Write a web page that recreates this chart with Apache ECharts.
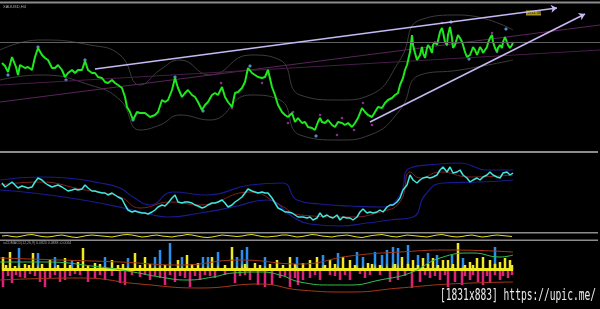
<!DOCTYPE html>
<html><head><meta charset="utf-8">
<script src="https://cdn.jsdelivr.net/npm/echarts@6/dist/echarts.min.js"></script>
<style>html,body{margin:0;padding:0;background:#000;}#c{width:600px;height:309px;}</style>
</head><body><div id="c"></div>
<script>
// ---- main panel: price (bar index, level) ----
const price = [[2,137],[5,134],[8,128],[12,143],[13,145],[16,133],[18,125],[20,135],[25,132],[28,133],[32,130],[35,143],[38,152],[42,145],[45,142],[48,140],[52,132],[55,132],[58,135],[62,130],[65,123],[68,127],[72,130],[75,127],[78,130],[82,130],[85,139],[88,130],[92,127],[95,127],[98,123],[102,122],[105,118],[108,117],[112,120],[115,117],[118,115],[122,112],[125,103],[127,93],[130,88],[133,80],[137,88],[140,87],[145,87],[150,83],[155,85],[158,88],[162,100],[165,98],[168,100],[172,110],[175,122],[178,112],[182,103],[185,107],[188,110],[192,105],[195,103],[198,98],[202,90],[205,95],[208,98],[212,105],[215,107],[218,105],[222,113],[225,103],[228,98],[232,93],[235,107],[238,108],[242,112],[245,118],[248,132],[252,127],[255,125],[258,123],[262,122],[265,123],[268,130],[272,113],[275,105],[278,95],[282,88],[285,85],[288,83],[292,87],[295,78],[298,82],[302,77],[305,78],[308,73],[312,72],[315,70],[318,78],[320,82],[322,78],[325,77],[328,80],[332,75],[335,73],[338,78],[342,77],[345,75],[348,77],[352,73],[355,77],[358,82],[362,92],[365,88],[368,85],[372,83],[375,88],[378,93],[382,92],[385,97],[388,100],[392,102],[395,105],[398,107],[400,115],[403,122],[405,130],[407,135],[410,148],[412,165],[413,155],[415,147],[417,140],[418,138],[420,145],[422,153],[423,147],[425,142],[427,152],[428,155],[430,152],[432,147],[433,155],[435,158],[437,155],[440,168],[442,172],[443,168],[445,158],[447,155],[448,165],[450,173],[452,162],[453,152],[455,155],[458,165],[460,162],[462,158],[463,155],[465,148],[467,143],[468,142],[470,145],[472,150],[473,153],[475,150],[477,145],[478,147],[480,153],[482,150],[483,147],[485,150],[487,153],[488,157],[490,162],[492,165],[493,158],[495,152],[497,148],[498,152],[500,155],[502,152],[503,158],[505,163],[507,162],[508,155],[510,152],[512,155],[513,158]];
const envUpper = [[0,150],[40,160],[90,155],[120,145],[140,115],[160,130],[180,140],[210,125],[250,145],[280,140],[300,105],[340,100],[370,105],[400,140],[420,180],[460,185],[513,170]];
const envLower = [[0,120],[40,125],[90,115],[120,100],[140,70],[160,75],[180,85],[210,80],[250,105],[280,100],[300,65],[340,60],[370,65],[400,90],[420,125],[460,130],[513,140]];
const blueMarks = [[8,125],[38,153],[66,120],[85,140],[133,80],[175,123],[203,89],[250,134],[316,64],[451,178],[469,141],[506,171]];
const pinkMarks = [[221,117],[232,92],[262,117],[268,130],[288,77],[293,88],[320,85],[337,65],[342,82],[354,70],[363,97],[372,75],[442,177],[447,155],[492,167],[497,148]];
const levelLine = 158;
const trendUp = [[95,131],[557,192]];
const trendLow = [[370,78],[585,186]];
const chanA = [[0,98],[600,175]];
const chanB = [[0,115],[600,150]];
const priceLabel = '1811.38';

// ---- panel 2: oscillator ----
const osc = [[2,67],[5,63],[8,65],[12,68],[15,65],[18,62],[22,64],[25,63],[28,62],[32,63],[35,68],[38,72],[42,70],[45,67],[48,65],[52,63],[55,64],[58,65],[62,63],[65,61],[68,59],[72,60],[75,61],[78,60],[82,61],[85,65],[88,62],[92,59],[95,59],[98,58],[102,57],[105,57],[108,55],[112,57],[115,55],[118,53],[122,51],[125,45],[128,40],[132,38],[135,39],[138,38],[142,37],[145,37],[148,36],[152,38],[155,40],[158,43],[162,45],[165,44],[168,47],[172,52],[175,55],[178,48],[182,47],[185,48],[188,48],[192,47],[195,45],[198,44],[202,42],[205,43],[208,45],[212,47],[215,47],[218,48],[222,50],[225,47],[228,43],[232,45],[235,48],[238,50],[242,53],[245,57],[248,61],[252,59],[255,58],[258,57],[262,58],[265,57],[268,57],[272,52],[275,47],[278,42],[282,40],[285,38],[288,38],[292,37],[295,35],[298,33],[300,35],[303,33],[307,32],[310,33],[313,30],[317,32],[320,37],[323,33],[327,35],[330,33],[333,32],[337,35],[340,30],[343,33],[347,32],[350,32],[353,30],[357,33],[360,38],[363,41],[367,37],[370,38],[373,37],[377,38],[380,40],[383,38],[387,43],[390,45],[393,45],[397,48],[400,52],[403,60],[407,65],[410,75],[413,70],[417,67],[420,70],[423,72],[427,73],[430,72],[433,73],[437,75],[440,80],[443,83],[447,78],[450,83],[453,77],[457,78],[460,80],[463,75],[467,72],[470,68],[473,70],[477,72],[480,70],[483,73],[487,75],[490,78],[493,75],[497,73],[500,72],[503,77],[507,78],[510,75],[513,77]];
const oscUpper = [[0,70],[40,73],[67,72],[100,67],[120,62],[133,53],[150,45],[173,58],[207,55],[250,65],[283,67],[297,50],[320,46],[350,44],[383,43],[400,55],[410,82],[440,86],[460,87],[487,80],[513,80]];
const oscLower = [[0,60],[33,57],[83,50],[133,40],[153,35],[167,33],[200,37],[233,43],[267,50],[293,33],[310,26],[340,24],[367,27],[390,30],[413,33],[425,55],[443,67],[480,68],[513,70]];
const oscSignal = [[0,65],[40,68],[80,61],[120,53],[140,42],[170,48],[200,45],[250,58],[280,45],[300,35],[350,33],[380,38],[400,48],[410,78],[420,72],[440,78],[470,73],[513,75]];

// ---- panel 3: thin yellow oscillator ----
const thin = [4,4.5,3.5,3,4,5,5.5,4.5,3.5,3,3.5,4.5,5,4,3,2.5,3.5,4.5,5,4.5,4,3.5,3,4,5,5.5,5,4,3,3.5,4.5,5,4,3.5,3,4,4.5,5.5,5,4,3,2.5,3,4,5,4.5,4,3.5,4,5,5.5,4.5,3.5,3,3.5,4,5,5,4,3,3.5,4.5,5.5,5,4,3.5,3,4,4.5,5,4,3,2.5,3.5,4.5,5,5.5,4.5,3.5,3,4,5,4.5,4,3.5,3,4,5,5.5,4.5,3.5,3,3.5,4.5,5,4,3,3.5,4.5,5,4.5,4,3.5];

// ---- panel 4: histogram ----
const histYellow = [[3,13],[6,5],[10,18],[15,4],[25,6],[29,5],[33,17],[42,6],[50,10],[58,5],[65,12],[70,5],[78,8],[83,22],[88,4],[95,7],[100,6],[112,10],[118,5],[123,6],[135,17],[140,5],[145,13],[150,6],[165,5],[178,10],[187,15],[192,6],[198,7],[212,13],[225,5],[232,23],[245,6],[255,7],[260,5],[270,6],[277,10],[283,5],[290,13],[295,6],[303,7],[310,10],[317,13],[325,5],[330,10],[335,6],[343,13],[350,10],[355,5],[368,7],[372,6],[380,5],[395,6],[402,13],[408,6],[413,10],[418,5],[423,12],[428,6],[433,12],[438,5],[443,10],[448,10],[453,6],[458,27],[465,5],[470,8],[473,5],[477,12],[483,13],[490,10],[495,6],[500,8],[505,12],[510,10],[512,5]];
const histBlue = [[19,22],[38,17],[55,13],[72,10],[105,13],[128,12],[155,13],[160,20],[170,27],[182,13],[203,13],[208,13],[218,18],[237,13],[242,20],[247,23],[265,13],[297,13],[323,15],[338,17],[357,18],[363,13],[375,18],[382,15],[387,20],[393,23],[398,22],[408,25],[418,15],[428,17],[437,15],[452,15],[463,12],[495,23]];
const histPink = [[3,-17],[8,-6],[12,-13],[16,-5],[20,-7],[25,-8],[30,-4],[35,-6],[40,-12],[45,-17],[50,-8],[55,-5],[60,-12],[65,-10],[70,-6],[75,-4],[80,-5],[88,-12],[95,-8],[100,-5],[105,-10],[112,-6],[120,-13],[125,-15],[132,-5],[140,-7],[145,-5],[150,-10],[155,-6],[160,-8],[165,-15],[170,-5],[175,-12],[180,-6],[185,-8],[190,-17],[195,-6],[200,-10],[205,-5],[210,-6],[215,-8],[225,-5],[235,-13],[240,-6],[245,-5],[250,-10],[258,-15],[265,-17],[272,-15],[280,-8],[285,-6],[290,-17],[295,-8],[298,-15],[303,-10],[310,-8],[315,-5],[320,-10],[330,-5],[335,-6],[340,-10],[345,-5],[350,-10],[360,-4],[365,-8],[370,-5],[380,-5],[390,-12],[398,-10],[405,-6],[412,-18],[420,-12],[425,-5],[430,-8],[435,-6],[440,-10],[445,-5],[448,-17],[455,-12],[462,-15],[465,-6],[470,-10],[473,-5],[478,-12],[483,-15],[487,-6],[490,-13],[495,-5],[500,-10],[503,-6],[508,-8],[512,-5]];
const histBase = [[2,0.5],[513,0.5]];
const histGreen = [[0,8],[43,8],[100,3],[133,-2],[160,-7],[187,-10],[213,-7],[233,-3],[260,-2],[280,-5],[300,-12],[333,-15],[350,-15],[380,-10],[410,-3],[440,12],[473,17],[500,13],[513,15]];
const histRedUp = [[0,12],[60,10],[120,8],[180,5],[240,10],[300,6],[350,14],[400,18],[450,20],[513,18]];
const histRedLow = [[0,-10],[80,-8],[140,-14],[200,-18],[260,-14],[300,-20],[350,-22],[400,-18],[450,-14],[513,-12]];

const chart = echarts.init(document.getElementById('c'), null, {renderer:'canvas'});
const xa = (g) => ({type:'value', gridIndex:g, min:0, max:600, show:false});
const ln = (xi, data, color, w, extra) => Object.assign({type:'line', xAxisIndex:xi, yAxisIndex:xi, data, symbol:'none', silent:true, lineStyle:{color, width:w}, animation:false}, extra||{});
const bar = (data, color) => ({type:'bar', xAxisIndex:3, yAxisIndex:3, data, barWidth:2.5, barGap:'-100%', itemStyle:{color}, animation:false, silent:true});

chart.setOption({
  backgroundColor:'#000',
  animation:false,
  grid:[
    {left:0, right:0, top:5, height:145},
    {left:0, right:0, top:153, height:77},
    {left:2, right:88, top:233, height:7},
    {left:0, right:0, top:240, height:55}
  ],
  xAxis:[xa(0), xa(1), {type:'category', gridIndex:2, data:thin.map((_,i)=>i), boundaryGap:false, show:false}, xa(3)],
  yAxis:[
    {type:'value', gridIndex:0, min:50, max:195, show:false},
    {type:'value', gridIndex:1, min:20, max:97, show:false},
    {type:'value', gridIndex:2, min:0, max:7, show:false},
    {type:'value', gridIndex:3, min:-25, max:30, show:false}
  ],
  series:[
    ln(0, envUpper, '#3c3c3c', 1, {smooth:true}),
    ln(0, envLower, '#3c3c3c', 1, {smooth:true}),
    ln(0, chanA, '#5a2458', 1),
    ln(0, chanB, '#461c48', 1),
    ln(0, price, '#1ee81e', 2, {
      markLine:{silent:true, symbol:'none', label:{show:false}, lineStyle:{color:'#606060', width:1, type:'solid'}, data:[{yAxis:levelLine}]}
    }),
    ln(0, [], '#c8b8f4', 1.5, {
      markLine:{silent:true, symbol:['none','arrow'], symbolSize:6, label:{show:false}, lineStyle:{color:'#c8b8f4', width:1.5, type:'solid'},
        data:[[{coord:trendUp[0]},{coord:trendUp[1]}],[{coord:trendLow[0]},{coord:trendLow[1]}]]}
    }),
    {type:'scatter', xAxisIndex:0, yAxisIndex:0, data:blueMarks, symbol:'diamond', symbolSize:4, itemStyle:{color:'#6aa8f0'}, silent:true},
    {type:'scatter', xAxisIndex:0, yAxisIndex:0, data:pinkMarks, symbol:'diamond', symbolSize:3, itemStyle:{color:'#c040c8'}, silent:true},

    ln(1, oscUpper, '#1a1a90', 1.2, {smooth:true}),
    ln(1, oscLower, '#1a1a90', 1.2, {smooth:true}),
    ln(1, oscSignal, '#802020', 1, {smooth:true}),
    ln(1, osc, '#40e8e0', 1.5),

    ln(2, thin, '#e8e020', 1),

    ln(3, histRedUp, '#a83818', 1, {smooth:true}),
    ln(3, histRedLow, '#a83818', 1, {smooth:true}),
    bar(histPink, '#e0207a'),
    bar(histBlue, new echarts.graphic.LinearGradient(0,0,0,1,[{offset:0,color:'#2a90f0'},{offset:0.65,color:'#2a90f0'},{offset:1,color:'#e8e020'}])),
    bar(histYellow, '#f0e820'),
    ln(3, histBase, '#f0e820', 3),
    ln(3, histGreen, '#30c050', 1, {smooth:true})
  ],
  graphic:[
    {type:'rect', shape:{x:0, y:1.5, width:600, height:2}, style:{fill:'#8c8c8c'}, silent:true},
    {type:'rect', shape:{x:0, y:151, width:598, height:2}, style:{fill:'#8c8c8c'}, silent:true},
    {type:'rect', shape:{x:0, y:232, width:598, height:1.5}, style:{fill:'#8c8c8c'}, silent:true},
    {type:'rect', shape:{x:0, y:239.5, width:598, height:1.5}, style:{fill:'#8c8c8c'}, silent:true},
    {type:'text', x:3, y:5, style:{text:'XAUUSD,H4', fill:'#b0b0b0', font:'4px sans-serif'}, silent:true},
    {type:'text', x:3, y:241.5, style:{text:'iuCDMACD(12,26,9) 0.0824 0.0888 -0.0064', fill:'#a0a0a0', font:'3.5px sans-serif'}, silent:true},
    {type:'rect', shape:{x:526, y:10.5, width:15, height:5}, style:{fill:'#a89a20'}, silent:true},
    {type:'text', x:527, y:11, style:{text:priceLabel, fill:'#202000', font:'4px sans-serif'}, silent:true},
    {type:'text', x:440, y:289, scaleX:0.64, style:{text:'[1831x883] https://upic.me/', fill:'#ececec', font:'15px "DejaVu Sans Mono"'}, silent:true}
  ]
});
</script></body></html>
